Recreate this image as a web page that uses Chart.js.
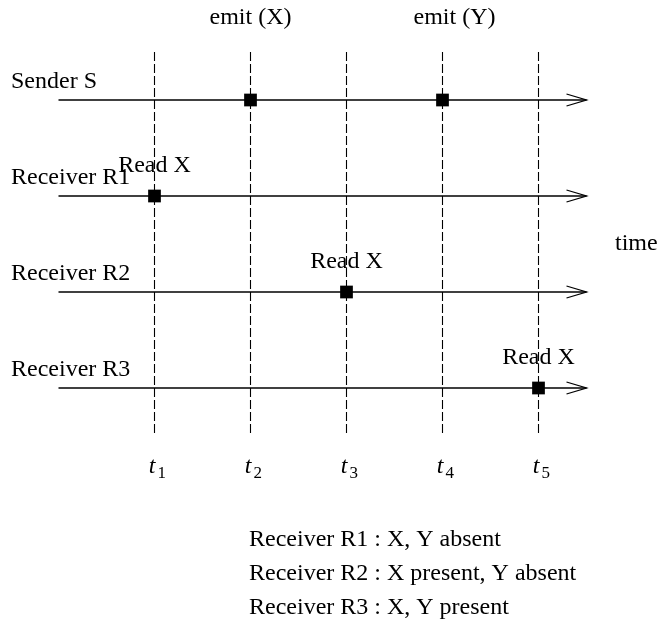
<!DOCTYPE html>
<html>
<head>
<meta charset="utf-8">
<script src="https://cdn.jsdelivr.net/npm/chart.js@4.4.1/dist/chart.umd.min.js"></script>
<style>
  html, body { margin: 0; padding: 0; background: #fff; }
  #wrap { width: 658px; height: 620px; position: relative; }
</style>
</head>
<body>
<div id="wrap"><canvas id="timeline"></canvas></div>
<script>
// ==========================================
// DATA
// ==========================================
// time instants t1..t5 (x in time units)
const TIME_TICKS = [1, 2, 3, 4, 5];
const TICK_SUBSCRIPTS = ['1', '2', '3', '4', '5'];

// one timeline per process, top to bottom (y = row index)
const PROCESSES = ['Sender S', 'Receiver R1', 'Receiver R2', 'Receiver R3'];
const LINE_START = 0;
const LINE_END = 5.5;

// events on the timelines
const EVENT_ROWS = [0, 0, 1, 2, 3];
const EVENT_TIMES = [2, 4, 1, 3, 5];
const EVENT_LABELS = ['emit (X)', 'emit (Y)', 'Read X', 'Read X', 'Read X'];

const AXIS_LABEL = 'time';
const SUMMARY = [
    'Receiver R1 : X, Y absent',
    'Receiver R2 : X present, Y absent',
    'Receiver R3 : X, Y present'
];

// ==========================================
// STYLE
// ==========================================
const FONT = "'Liberation Serif', 'Times New Roman', serif";
const INK = '#000';

// ==========================================
// CHART
// ==========================================
const datasets = [];

// dashed guides at each time instant
TIME_TICKS.forEach(t => {
    datasets.push({
        data: [{ x: t, y: -0.5 }, { x: t, y: PROCESSES.length - 0.5 }],
        showLine: true,
        borderColor: INK,
        borderWidth: 1.1,
        borderDash: [9, 3],
        pointRadius: 0
    });
});

// process timelines
PROCESSES.forEach((p, row) => {
    datasets.push({
        data: [{ x: LINE_START, y: row }, { x: LINE_END, y: row }],
        showLine: true,
        borderColor: INK,
        borderWidth: 1.3,
        pointRadius: 0
    });
});

// event markers
datasets.push({
    data: EVENT_TIMES.map((t, i) => ({ x: t, y: EVENT_ROWS[i] })),
    showLine: false,
    pointStyle: 'rect',
    pointRadius: 9,
    backgroundColor: INK,
    borderColor: INK,
    borderWidth: 0
});

// arrowheads + all the text
const annotations = {
    id: 'annotations',
    afterDatasetsDraw(chart) {
        const { ctx, scales: { x, y } } = chart;
        ctx.save();

        // open arrowheads at the end of each timeline
        ctx.strokeStyle = INK;
        ctx.lineWidth = 1.3;
        PROCESSES.forEach((p, row) => {
            const px = x.getPixelForValue(LINE_END);
            const py = y.getPixelForValue(row);
            ctx.beginPath();
            ctx.moveTo(px - 20, py - 6);
            ctx.lineTo(px, py);
            ctx.lineTo(px - 20, py + 6);
            ctx.stroke();
        });

        ctx.fillStyle = INK;
        ctx.font = '24px ' + FONT;

        // process names
        ctx.textAlign = 'left';
        ctx.textBaseline = 'alphabetic';
        PROCESSES.forEach((p, row) => {
            ctx.fillText(p, 11, y.getPixelForValue(row) - 12);
        });

        // event labels: sends sit above the guides, reads just over the marker
        ctx.textAlign = 'center';
        ctx.textBaseline = 'middle';
        EVENT_LABELS.forEach((lab, i) => {
            let px = x.getPixelForValue(EVENT_TIMES[i]);
            let py;
            if (EVENT_ROWS[i] === 0) {
                py = y.getPixelForValue(-0.86);
                if (i === 1) px += 12;
            } else {
                py = y.getPixelForValue(EVENT_ROWS[i]) - 30;
            }
            ctx.fillText(lab, px, py);
        });

        // axis label
        ctx.textAlign = 'left';
        ctx.fillText(AXIS_LABEL, 615, y.getPixelForValue(1.5));

        // t_i labels
        const base = y.getPixelForValue(PROCESSES.length - 0.2) + 8;
        TIME_TICKS.forEach((t, i) => {
            const px = x.getPixelForValue(t);
            ctx.textBaseline = 'alphabetic';
            ctx.font = 'italic 24px ' + FONT;
            ctx.textAlign = 'right';
            ctx.fillText('t', px + 1, base);
            ctx.font = '17px ' + FONT;
            ctx.textAlign = 'left';
            ctx.fillText(TICK_SUBSCRIPTS[i], px + 3, base + 5);
        });

        // summary
        ctx.font = '24px ' + FONT;
        ctx.textAlign = 'left';
        ctx.textBaseline = 'middle';
        SUMMARY.forEach((s, i) => {
            ctx.fillText(s, 249, 540 + i * 34);
        });

        ctx.restore();
    }
};

new Chart(document.getElementById('timeline'), {
    type: 'scatter',
    data: { datasets },
    options: {
        responsive: true,
        maintainAspectRatio: false,
        animation: false,
        layout: { padding: 0, autoPadding: false },
        scales: {
            x: { type: 'linear', min: -58.5 / 96, max: 599.5 / 96, display: false },
            y: { type: 'linear', min: -100 / 96, max: 520 / 96, reverse: true, display: false }
        },
        plugins: {
            legend: { display: false },
            tooltip: { enabled: false }
        }
    },
    plugins: [annotations]
});
</script>
</body>
</html>
